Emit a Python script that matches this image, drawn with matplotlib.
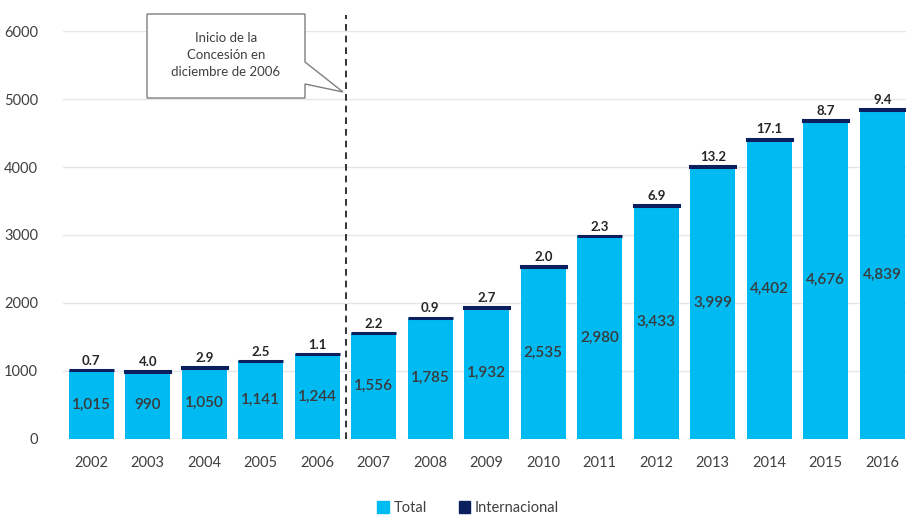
import matplotlib.pyplot as plt
from matplotlib.patches import Polygon

years = ["2002", "2003", "2004", "2005", "2006", "2007", "2008", "2009",
         "2010", "2011", "2012", "2013", "2014", "2015", "2016"]
total = [1015, 990, 1050, 1141, 1244, 1556, 1785, 1932,
         2535, 2980, 3433, 3999, 4402, 4676, 4839]
internacional = [0.7, 4.0, 2.9, 2.5, 1.1, 2.2, 0.9, 2.7,
                 2.0, 2.3, 6.9, 13.2, 17.1, 8.7, 9.4]
concesion_pos = 4.5  # between 2006 and 2007

LIGHT = "#00BAF2"
DARK = "#0B1F5E"

plt.rcParams["font.family"] = ["Lato", "DejaVu Sans"]

fig = plt.figure(figsize=(9.06, 5.25), dpi=100)
ax = fig.add_axes([63 / 906, (525 - 439) / 525, (906 - 63) / 906, 408 / 525])

x = list(range(len(years)))
ax.bar(x, total, width=0.8, color=LIGHT, zorder=2)
ax.bar(x, internacional, width=0.8, bottom=total, color=DARK,
       edgecolor=DARK, linewidth=2.2, zorder=3)

for i in x:
    ax.text(i, total[i] / 2, f"{total[i]:,}", ha="center", va="center",
            fontsize=11, fontweight="semibold", color="#3A3A3A", zorder=4)
    ax.text(i, total[i] + internacional[i] + 50, f"{internacional[i]:.1f}",
            ha="center", va="bottom", fontsize=9.5, fontweight="bold",
            color="#262626", zorder=4)

ax.set_xlim(-0.5, 14.42)
ax.set_ylim(0, 6000)
ax.set_yticks(range(0, 6001, 1000))
ax.set_xticks(x)
ax.set_xticklabels(years)
ax.grid(axis="y", color="#E6E6E6", linewidth=1, zorder=0)
for s in ax.spines.values():
    s.set_visible(False)
ax.tick_params(length=0, labelsize=10.5, colors="#404040")
ax.tick_params(axis="y", pad=18)
ax.tick_params(axis="x", pad=12)

ax.axvline(concesion_pos, ymin=0, ymax=1.04, color="#111111", linestyle=(0, (4, 3)),
           linewidth=1.2, clip_on=False, zorder=5)

# callout box
W, H = 906.0, 525.0
pts = [(147, 14), (305, 14), (305, 62), (343, 92), (305, 84), (305, 98), (147, 98)]
fig.patches.append(Polygon([(px / W, 1 - py / H) for px, py in pts], closed=True,
                           transform=fig.transFigure, facecolor="white",
                           edgecolor="#7F7F7F", linewidth=1.0, zorder=6))
fig.text(226 / W, 1 - 55 / H, "Inicio de la\nConcesión en\ndiciembre de 2006",
         ha="center", va="center", fontsize=9.5, color="#404040",
         linespacing=1.55, zorder=7)

# legend
handles = [plt.Rectangle((0, 0), 1, 1, color=LIGHT),
           plt.Rectangle((0, 0), 1, 1, color=DARK)]
fig.legend(handles, ["Total", "Internacional"], loc="center",
           bbox_to_anchor=(468 / W, 1 - 508 / H), ncol=2, frameon=False,
           fontsize=10.5, handlelength=0.8, handleheight=0.8,
           handletextpad=0.3, columnspacing=2.2, labelcolor="#404040")

fig.savefig("out.png", dpi=100)
